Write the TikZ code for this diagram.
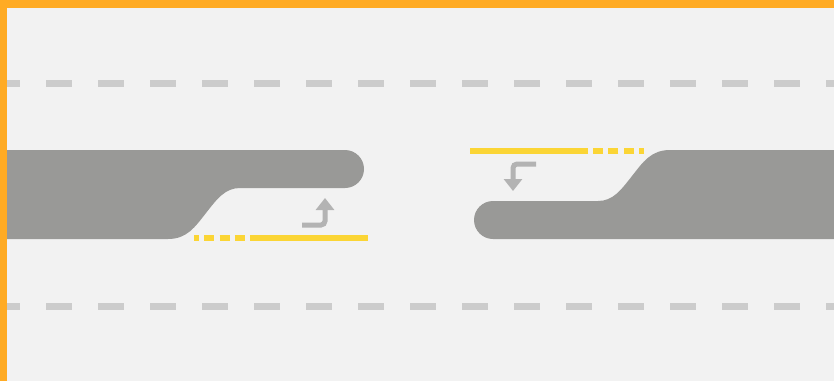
\documentclass[tikz,border=0pt]{standalone}
\usetikzlibrary{arrows.meta}
\definecolor{bg}{HTML}{F2F2F2}
\definecolor{frame}{HTML}{FFAB24}
\definecolor{island}{HTML}{999997}
\definecolor{lanegray}{HTML}{CCCCCC}
\definecolor{mark}{HTML}{FBD535}
\definecolor{arrowgray}{HTML}{B3B3B3}
\tikzset{
  lanedash/.style={draw=lanegray, line width=7pt, dash pattern=on 26pt off 26pt},
  islandfill/.style={fill=island, draw=none},
  yellowsolid/.style={draw=mark, line width=5.5pt},
  yellowdash/.style={draw=mark, line width=5.5pt, dash pattern=on 10pt off 5.33pt},
  turnarrow/.style={draw=arrowgray, line width=5pt, rounded corners=4pt,
    -{Triangle[width=18pt,length=12pt]}},
}
\begin{document}
\begin{tikzpicture}[x=1pt,y=-1pt]
\useasboundingbox (0,0) rectangle (834,381);
\fill[bg] (0,0) rectangle (834,381);
% lane lines
\coordinate (t1) at (-6,83.5);
\coordinate (t2) at (840,83.5);
\coordinate (b1) at (-6,306);
\coordinate (b2) at (840,306);
\draw[lanedash] (t1) -- (t2);
\draw[lanedash] (b1) -- (b2);
% two symmetric halves
\foreach \ang in {0,180}{
\begin{scope}[rotate around={\ang:(419,194.5)}]
  \fill[islandfill] (-5,150) -- (345,150) arc[start angle=-90,end angle=90,radius=19]
    -- (240,188) .. controls (225,188) and (217,199) .. (206,213)
    .. controls (195,227) and (187,239) .. (168,239) -- (-5,239) -- cycle;
  \coordinate (ys1) at (250,238);
  \coordinate (ys2) at (368,238);
  \coordinate (yd1) at (194.3,238);
  \coordinate (yd2) at (245.5,238);
  \draw[yellowsolid] (ys1) -- (ys2);
  \draw[yellowdash, dash phase=5.3pt] (yd1) -- (yd2);
  \coordinate (a1) at (302,225);
  \coordinate (a2) at (325,225);
  \coordinate (a3) at (325,198);
  \draw[turnarrow] (a1) -- (a2) -- (a3);
\end{scope}
}
% frame
\fill[frame] (0,0) rectangle (834,8);
\fill[frame] (0,0) rectangle (7,381);
\end{tikzpicture}
\end{document}
